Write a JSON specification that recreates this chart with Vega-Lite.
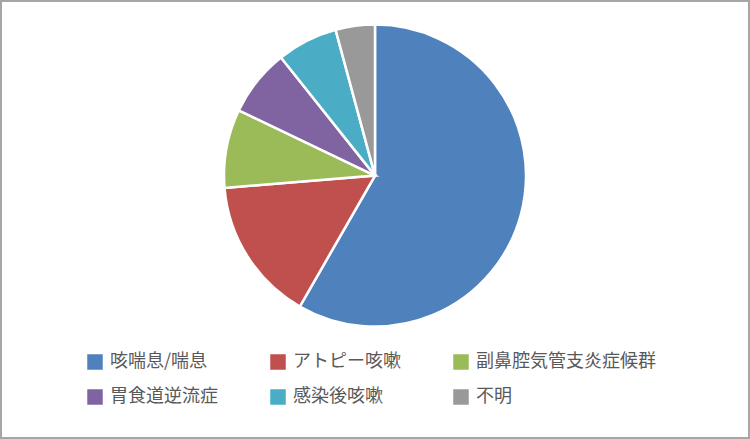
{
  "$schema": "https://vega.github.io/schema/vega-lite/v6.json",
  "autosize": {"type": "fit", "contains": "padding"},
  "width": 750,
  "height": 439,
  "padding": 0,
  "background": "white",
  "view": {"stroke": "#a6a6a6", "strokeWidth": 4, "fill": "white"},
  "data": {
    "values": [
      {"category": "咳喘息/喘息", "percent": 58.3},
      {"category": "アトピー咳嗽", "percent": 15.4},
      {"category": "副鼻腔気管支炎症候群", "percent": 8.4},
      {"category": "胃食道逆流症", "percent": 7.2},
      {"category": "感染後咳嗽", "percent": 6.5},
      {"category": "不明", "percent": 4.2}
    ]
  },
  "transform": [{"window": [{"op": "row_number", "as": "idx"}]}],
  "mark": {"type": "arc", "outerRadius": 151, "stroke": "white", "strokeWidth": 2.5, "y": {"expr": "height * 0.4"}},
  "encoding": {
    "theta": {"field": "percent", "type": "quantitative", "stack": true},
    "order": {"field": "idx", "type": "quantitative"},
    "color": {
      "field": "category",
      "type": "nominal",
      "sort": null,
      "scale": {
        "domain": ["咳喘息/喘息", "アトピー咳嗽", "副鼻腔気管支炎症候群", "胃食道逆流症", "感染後咳嗽", "不明"],
        "range": ["#4F81BD", "#C0504D", "#9BBB59", "#8064A2", "#4BACC6", "#999999"]
      },
      "legend": {
        "title": null,
        "orient": "none",
        "direction": "horizontal",
        "legendX": 86,
        "legendY": 353,
        "columns": 3,
        "gridAlign": "each",
        "columnPadding": 51,
        "rowPadding": 17,
        "symbolType": "square",
        "symbolSize": 240,
        "symbolStrokeWidth": 0,
        "symbolOpacity": 1,
        "labelOffset": 6,
        "labelFontSize": 18,
        "labelFont": "Noto Sans CJK JP",
        "labelColor": "#595959",
        "labelLimit": 300
      }
    }
  }
}
